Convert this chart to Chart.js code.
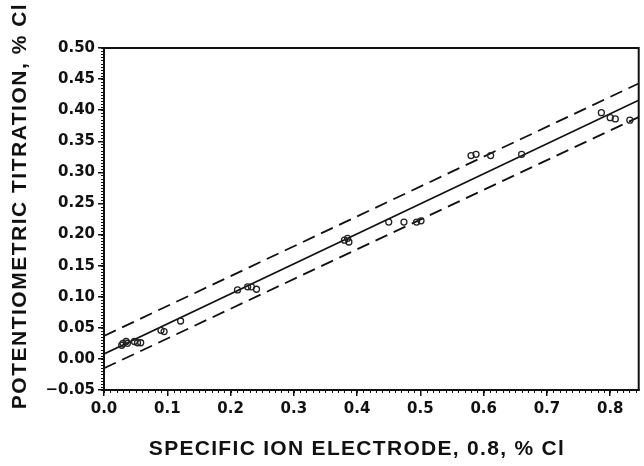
<!DOCTYPE html>
<html>
<head>
<meta charset="utf-8">
<script src="https://cdn.jsdelivr.net/npm/chart.js@4/dist/chart.umd.min.js"></script>
<style>
  html, body { margin: 0; padding: 0; background: #fff; }
  #wrap { width: 644px; height: 466px; position: relative; }
</style>
</head>
<body>
<div id="wrap"><canvas id="c" width="644" height="466"></canvas></div>
<script>
// ---- data ----
const electrodeX = [0.028, 0.030, 0.035, 0.037, 0.048, 0.053, 0.058, 0.090, 0.095, 0.121,
                    0.211, 0.227, 0.233, 0.241, 0.380, 0.385, 0.387, 0.450, 0.474, 0.494, 0.501,
                    0.580, 0.588, 0.611, 0.660, 0.786, 0.800, 0.808, 0.831];
const titrationY = [0.022, 0.025, 0.028, 0.025, 0.028, 0.026, 0.026, 0.046, 0.044, 0.061,
                    0.111, 0.116, 0.116, 0.112, 0.191, 0.194, 0.188, 0.220, 0.220, 0.220, 0.222,
                    0.327, 0.329, 0.327, 0.329, 0.396, 0.388, 0.386, 0.384];
const lineX      = [0, 0.845];
const fitLine    = [0.008, 0.416];
const upperLimit = [0.037, 0.443];
const lowerLimit = [-0.015, 0.389];
const xTickValues = [0, 0.1, 0.2, 0.3, 0.4, 0.5, 0.6, 0.7, 0.8];
const yTickValues = [-0.05, 0, 0.05, 0.1, 0.15, 0.2, 0.25, 0.3, 0.35, 0.4, 0.45, 0.5];
const xTitle = 'SPECIFIC ION ELECTRODE, 0.8, % Cl';
const yTitle = 'POTENTIOMETRIC TITRATION, % Cl';

const pts = electrodeX.map((x, i) => ({x: x, y: titrationY[i]}));
const mk = arr => lineX.map((x, i) => ({x: x, y: arr[i]}));

const tickFont = {family: 'DejaVu Sans', weight: 'bold', size: 15};

const framePlugin = {
  id: 'frame',
  afterDraw(chart) {
    const ctx = chart.ctx, a = chart.chartArea;
    const xs = chart.scales.x, ys = chart.scales.y;
    ctx.save();
    ctx.strokeStyle = '#111';
    ctx.lineWidth = 2;
    ctx.beginPath();
    ctx.moveTo(a.left, a.bottom);
    ctx.lineTo(a.left, a.top);
    ctx.lineTo(a.right, a.top);
    ctx.lineTo(a.right, a.bottom);
    ctx.lineTo(a.left, a.bottom);
    ctx.stroke();
    // minor ticks
    ctx.lineWidth = 1;
    ctx.beginPath();
    for (let k = 0; k <= 84; k++) {
      const px = Math.round(xs.getPixelForValue(k / 100)) + 0.5;
      ctx.moveTo(px, a.bottom);
      ctx.lineTo(px, a.bottom + 3);
    }
    for (let k = -10; k <= 100; k++) {
      const py = Math.round(ys.getPixelForValue(k / 200)) + 0.5;
      ctx.moveTo(a.left, py);
      ctx.lineTo(a.left - 3, py);
    }
    ctx.stroke();
    // axis titles
    ctx.fillStyle = '#111';
    ctx.font = 'bold 21px "Liberation Sans", Arial, sans-serif';
    ctx.letterSpacing = '1.3px';
    ctx.textAlign = 'center';
    ctx.textBaseline = 'middle';
    ctx.fillText(xTitle, 357, 449);
    ctx.translate(20, 206);
    ctx.rotate(-Math.PI / 2);
    ctx.letterSpacing = '1.5px';
    ctx.fillText(yTitle, 0, 0);
    ctx.restore();
  }
};

new Chart(document.getElementById('c'), {
  type: 'scatter',
  data: {
    datasets: [
      {label: 'data', data: pts, pointStyle: 'circle', pointRadius: 3, pointBorderWidth: 1.3,
       borderColor: '#222', backgroundColor: 'rgba(0,0,0,0)', showLine: false},
      {label: 'fit', data: mk(fitLine), showLine: true, pointRadius: 0, borderColor: '#111', borderWidth: 1.6},
      {label: 'upper', data: mk(upperLimit), showLine: true, pointRadius: 0, borderColor: '#111', borderWidth: 1.8, borderDash: [13, 7]},
      {label: 'lower', data: mk(lowerLimit), showLine: true, pointRadius: 0, borderColor: '#111', borderWidth: 1.8, borderDash: [13, 7]}
    ]
  },
  options: {
    responsive: false,
    animation: false,
    layout: {padding: {left: 0, right: 5, top: 48, bottom: 0}},
    plugins: {legend: {display: false}, tooltip: {enabled: false}},
    scales: {
      x: {
        type: 'linear', min: 0, max: 0.845,
        afterBuildTicks: s => { s.ticks = xTickValues.map(v => ({value: v})); },
        afterFit: s => { s.height = 76; },
        ticks: {color: '#111', font: tickFont, padding: 4, autoSkip: false, maxRotation: 0,
                callback: v => Number(v).toFixed(1)},
        grid: {drawOnChartArea: false, drawTicks: true, tickLength: 6, color: '#111', lineWidth: 1.5},
        border: {display: true, color: '#111', width: 2}
      },
      y: {
        type: 'linear', min: -0.05, max: 0.5,
        afterBuildTicks: s => { s.ticks = yTickValues.map(v => ({value: v})); },
        afterFit: s => { s.width = 104; },
        ticks: {color: '#111', font: tickFont, padding: 3, autoSkip: false,
                callback: v => { const t = Math.abs(v).toFixed(2); return v < -1e-9 ? '\u2212' + t : t; }},
        grid: {drawOnChartArea: false, drawTicks: true, tickLength: 6, color: '#111', lineWidth: 1.5},
        border: {display: true, color: '#111', width: 2}
      }
    }
  },
  plugins: [framePlugin]
});
</script>
</body>
</html>
